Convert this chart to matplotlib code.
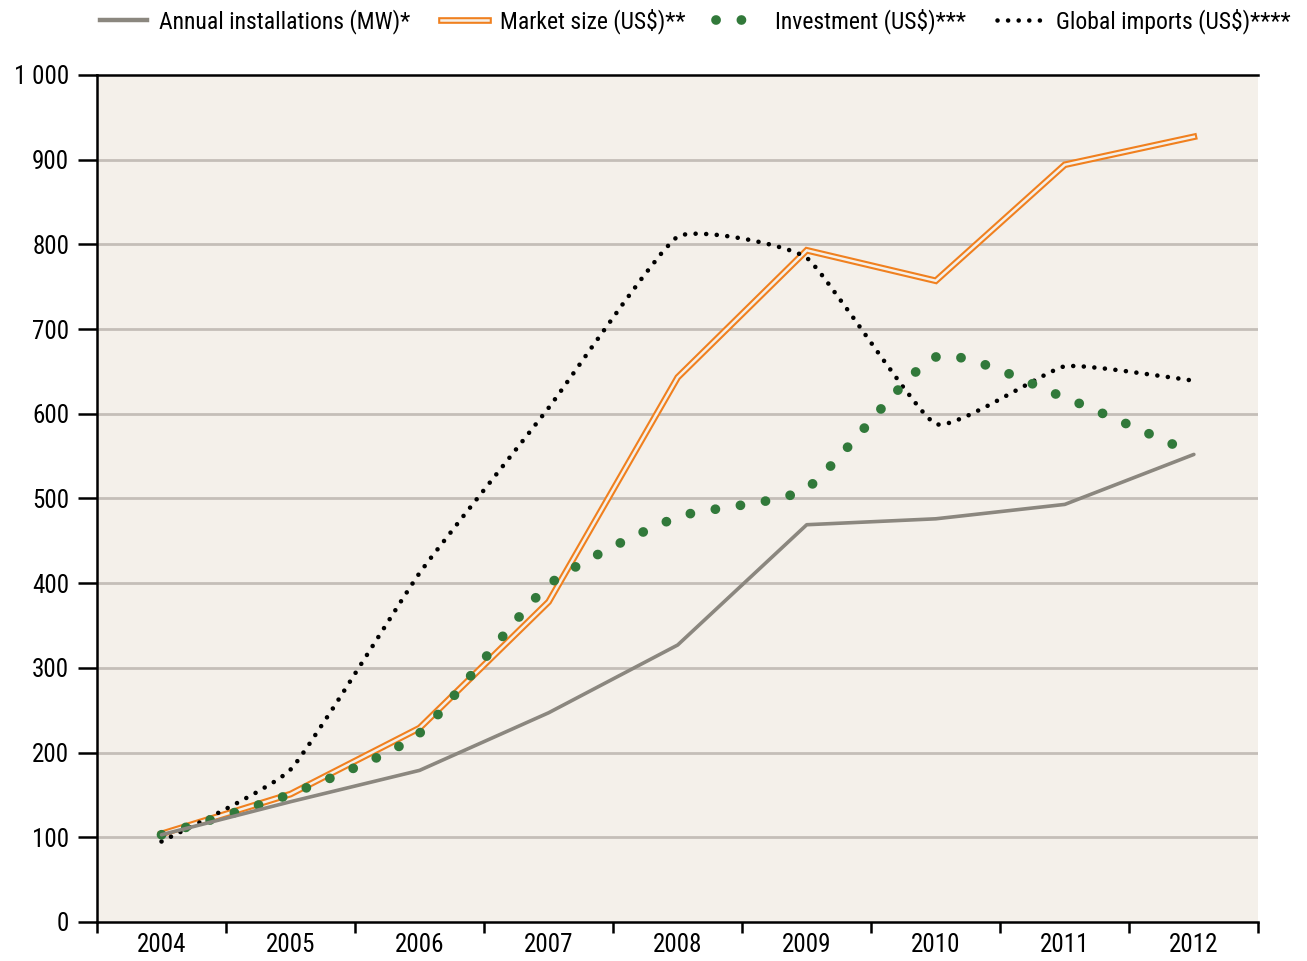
import matplotlib
matplotlib.use("Agg")
import matplotlib.pyplot as plt
from matplotlib.path import Path
from matplotlib.patches import PathPatch
from matplotlib.lines import Line2D
from matplotlib.legend_handler import HandlerTuple
import logging

logging.getLogger("matplotlib.font_manager").setLevel(logging.ERROR)
plt.rcParams["font.family"] = [
    "Roboto Condensed", "PT Sans Narrow", "Liberation Sans Narrow",
    "Liberation Sans", "DejaVu Sans",
]

years = ["2004", "2005", "2006", "2007", "2008", "2009", "2010", "2011", "2012"]
installations = [103, 142, 179, 247, 327, 469, 476, 493, 552]
market_size = [104, 151, 229, 378, 643, 793, 757, 894, 927]
investment = [103, 151, 223, 398, 478, 512, 667, 619, 553]
imports = [95, 180, 412, 607, 809, 784, 588, 656, 639]

labels = [
    "Annual installations (MW)*",
    "Market size (US$)**",
    "Investment (US$)***",
    "Global imports (US$)****",
]

bg = "#f4f0ea"
grey = "#8b877f"
orange = "#f0801f"
green = "#31793a"
grid_col = "#c4beb8"


def smooth_path(xs, ys, k=0.12):
    # bezier curve through the points (like a "smoothed line" in a spreadsheet)
    pts = list(zip(xs, ys))
    n = len(pts)
    verts = [pts[0]]
    codes = [Path.MOVETO]
    for i in range(n - 1):
        p0 = pts[max(i - 1, 0)]
        p1 = pts[i]
        p2 = pts[i + 1]
        p3 = pts[min(i + 2, n - 1)]
        c1 = (p1[0] + k * (p2[0] - p0[0]), p1[1] + k * (p2[1] - p0[1]))
        c2 = (p2[0] - k * (p3[0] - p1[0]), p2[1] - k * (p3[1] - p1[1]))
        verts += [c1, c2, p2]
        codes += [Path.CURVE4] * 3
    return Path(verts, codes)


x = list(range(len(years)))

fig = plt.figure(figsize=(13.07, 9.61), dpi=100)
ax = fig.add_axes([0.0742, 0.0406, 0.8886, 0.8814])
ax.set_facecolor(bg)

green_ls = (0, (0.01, 2.6))
black_ls = (0, (0.01, 2.3))

# market size: double orange line
ax.plot(x, market_size, color=orange, lw=4.8, solid_joinstyle="miter", zorder=3)
ax.plot(x, market_size, color=bg, lw=1.8, solid_joinstyle="miter", zorder=3.1)

ax.add_patch(
    PathPatch(smooth_path(x, imports, 0.07), fill=False, edgecolor="black",
              lw=3.3, linestyle=black_ls, capstyle="round", zorder=4)
)
ax.add_patch(
    PathPatch(smooth_path(x, investment, 0.1), fill=False, edgecolor=green,
              lw=7, linestyle=green_ls, capstyle="round", zorder=5)
)
ax.plot(x, installations, color=grey, lw=2.6, solid_capstyle="round", zorder=6)

ax.set_xlim(-0.5, 8.5)
ax.set_ylim(0, 1000)

ax.set_xticks([i - 0.5 for i in range(len(years) + 1)])
ax.set_xticklabels([])
ax.set_xticks(x, minor=True)
ax.set_xticklabels(years, minor=True, fontsize=18)
ax.tick_params(axis="x", which="major", direction="out", length=8, width=1.8)
ax.tick_params(axis="x", which="minor", length=0, pad=8)

yt = list(range(0, 1001, 100))
ax.set_yticks(yt)
ax.set_yticklabels(["1 000" if v == 1000 else str(v) for v in yt], fontsize=18)
ax.tick_params(axis="y", direction="out", length=14, width=1.8, pad=6)

for v in yt[1:-1]:
    ax.axhline(v, color=grid_col, lw=2, zorder=1)

for side in ["left", "bottom", "top"]:
    ax.spines[side].set_linewidth(1.8)
    ax.spines[side].set_color("black")
ax.spines["right"].set_visible(False)

h_grey = Line2D([], [], color=grey, lw=3.2)
h_or1 = Line2D([], [], color=orange, lw=4.8)
h_or2 = Line2D([], [], color=bg, lw=1.8)
h_green = Line2D([], [], color=green, lw=7, linestyle=green_ls, dash_capstyle="round")
h_black = Line2D([], [], color="black", lw=3.3, linestyle=black_ls, dash_capstyle="round")

fig.legend(
    [h_grey, (h_or1, h_or2), h_green, h_black],
    labels,
    handler_map={tuple: HandlerTuple(ndivide=1, pad=0)},
    loc="upper center",
    bbox_to_anchor=(0.532, 1.013),
    ncol=4,
    frameon=False,
    fontsize=17,
    handlelength=2.0,
    handletextpad=0.5,
    columnspacing=1.3,
)

fig.savefig("out.png", dpi=100)
